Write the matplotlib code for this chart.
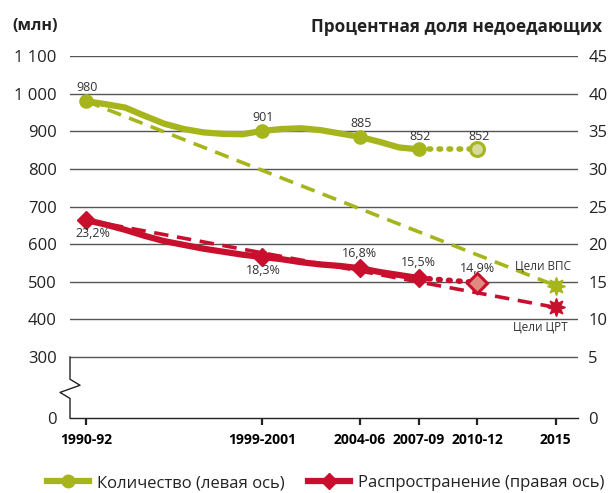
import matplotlib
matplotlib.use('Agg')
import matplotlib.pyplot as plt
import numpy as np
from matplotlib.lines import Line2D
from matplotlib.transforms import blended_transform_factory

plt.rcParams['font.family'] = ['Open Sans', 'DejaVu Sans']

# Количество недоедающих (млн), по годам (середина трёхлетнего периода)
years = [1991, 1992, 1993, 1994, 1995, 1996, 1997, 1998, 1999, 2000,
         2001, 2002, 2003, 2004, 2005, 2006, 2007, 2008]
count = [980, 972, 963, 941, 920, 906, 897, 893, 892, 901,
         906, 908, 903, 894, 885, 872, 857, 852]
# Распространение (%)
prev = [23.2, 22.6, 21.9, 21.1, 20.4, 19.9, 19.4, 19.0, 18.6, 18.3,
        18.0, 17.6, 17.3, 17.1, 16.8, 16.3, 15.9, 15.5]

# опорные точки с подписями
key_years = [1991, 2000, 2005, 2008]
key_count = [980, 901, 885, 852]
key_prev = [23.2, 18.3, 16.8, 15.5]
proj_years = [2008, 2011]
proj_count = [852, 852]
proj_prev = [15.5, 14.9]
goal_years = [1991, 2015]
goal_count = [980, 490]     # цель ВПС
goal_prev = [23.2, 11.6]    # цель ЦРТ

tick_years = [1991, 2000, 2005, 2008, 2011, 2015]
tick_labels = ['1990-92', '1999-2001', '2004-06', '2007-09', '2010-12', '2015']

left_ticks = [300, 400, 500, 600, 700, 800, 900, 1000, 1100]
left_labels = ['300', '400', '500', '600', '700', '800', '900', '1 000', '1 100']
right_ticks = [5, 10, 15, 20, 25, 30, 35, 40, 45]

ZERO = 138  # сжатый участок оси ниже 300


def pct(v):
    # перевод процентов в единицы левой оси
    return 20 * np.asarray(v, dtype=float) + 200


green = '#a6b51b'
green_light = '#d6da9c'
red = '#c8102e'
red_light = '#e38a80'
txt = '#333333'

fig = plt.figure(figsize=(6.10, 4.93), dpi=100)
ax = fig.add_axes([70 / 610, 1 - 418 / 493, 508 / 610, (418 - 56) / 493])
ax.set_xlim(1990.18, 2016.15)
ax.set_ylim(ZERO, 1100)

# сетка
for t in left_ticks:
    ax.axhline(t, color='#555555', lw=1, zorder=1)

for s in ['top', 'right', 'left']:
    ax.spines[s].set_visible(False)
ax.spines['bottom'].set_color('#222222')
ax.spines['bottom'].set_linewidth(1)

# левая ось с разрывом
tr = blended_transform_factory(ax.transAxes, ax.transData)
dx = 10 / 508
ax.plot([0, 0, dx, -dx, 0, 0], [300, 241, 225, 206, 190, ZERO],
        color='#222222', lw=1, transform=tr, clip_on=False, zorder=2)

ax.set_yticks([ZERO] + left_ticks)
ax.set_yticklabels(['0'] + left_labels)
ax.tick_params(axis='y', length=0, pad=9.5, labelsize=12, labelcolor='#222222')
ax.set_xticks(tick_years)
ax.set_xticklabels(tick_labels, fontweight='bold', fontsize=10)
ax.tick_params(axis='x', direction='out', length=5, width=1.6, color='#222222', pad=6)

ax2 = ax.twinx()
ax2.set_ylim(ZERO, 1100)
ax2.set_yticks([ZERO] + list(pct(right_ticks)))
ax2.set_yticklabels(['0'] + [str(v) for v in right_ticks])
ax2.tick_params(axis='y', length=0, pad=7.5, labelsize=12, labelcolor='#222222')
for s in ax2.spines.values():
    s.set_visible(False)

# цели
ax.plot(goal_years, goal_count, color=green, lw=2.6, dashes=(4, 2.4), zorder=3)
ax.plot(goal_years, pct(goal_prev), color=red, lw=2.6, dashes=(4, 2.4), zorder=3)
ax.plot(2015, goal_count[1], marker=(8, 1, 0), ms=13, color=green, zorder=6, clip_on=False)
ax.plot(2015, pct(goal_prev)[1], marker=(8, 1, 0), ms=13, color=red, zorder=6, clip_on=False)

# фактические данные
ax.plot(years, count, color=green, lw=4.5, solid_capstyle='round', solid_joinstyle='round', zorder=4)
ax.plot(key_years, key_count, 'o', color=green, ms=9.5, zorder=5)
ax.plot(years, pct(prev), color=red, lw=4.5, solid_capstyle='round', solid_joinstyle='round', zorder=4)
ax.plot(key_years, pct(key_prev), 'D', color=red, ms=9, zorder=5)

# прогноз
ax.plot(proj_years, proj_count, color=green, lw=4, dashes=(0.3, 1.5),
        dash_capstyle='round', zorder=4)
ax.plot(proj_years[1], proj_count[1], 'o', ms=10, mfc=green_light, mec=green, mew=2.2, zorder=6)
ax.plot(proj_years, pct(proj_prev), color=red, lw=4, dashes=(0.3, 1.5),
        dash_capstyle='round', zorder=4)
ax.plot(proj_years[1], pct(proj_prev)[1], 'D', ms=10, mfc=red_light, mec=red, mew=2.2, zorder=6)

# подписи значений
for x, v in zip(key_years + [2011], key_count + [852]):
    ax.annotate(f'{v}', (x, v), xytext=(1, 9.5), textcoords='offset points',
                ha='center', va='center', fontsize=9, color=txt, zorder=7)

prev_labels = ['23,2%', '18,3%', '16,8%', '15,5%', '14,9%']
prev_offsets = [(5, -9.5), (1, -9.5), (0, 10.5), (0, 11.5), (0, 10)]
for x, v, lab, off in zip(key_years + [2011], key_prev + [14.9], prev_labels, prev_offsets):
    ax.annotate(lab, (x, pct(v)), xytext=off, textcoords='offset points',
                ha='center', va='center', fontsize=9, color=txt, zorder=7)

ax.annotate('Цели ВПС', (2015, goal_count[1]), xytext=(11, 14), textcoords='offset points',
            ha='right', va='center', fontsize=8.5, color=txt)
ax.annotate('Цели ЦРТ', (2015, pct(goal_prev)[1]), xytext=(9, -14), textcoords='offset points',
            ha='right', va='center', fontsize=8.5, color=txt)

# заголовки осей
fig.text(12 / 610, 1 - 26 / 493, '(млн)', fontsize=11.5, fontweight='bold',
         color='#222222', ha='left', va='center')
fig.text(602 / 610, 1 - 27 / 493, 'Процентная доля недоедающих', fontsize=12.3,
         fontweight='bold', color='#222222', ha='right', va='center')

# легенда
handles = [
    Line2D([], [], color=green, lw=4.5, marker='o', ms=9),
    Line2D([], [], color=red, lw=4.5, marker='D', ms=8.5),
]
fig.legend(handles, ['Количество (левая ось)', 'Распространение (правая ось)'],
           loc='center', bbox_to_anchor=(0.534, 1 - 483 / 493), ncol=2, frameon=False,
           fontsize=12, handlelength=2.5, handletextpad=0.5, columnspacing=1.4,
           borderpad=0, labelcolor='#222222')

fig.savefig('out.png', dpi=100)
